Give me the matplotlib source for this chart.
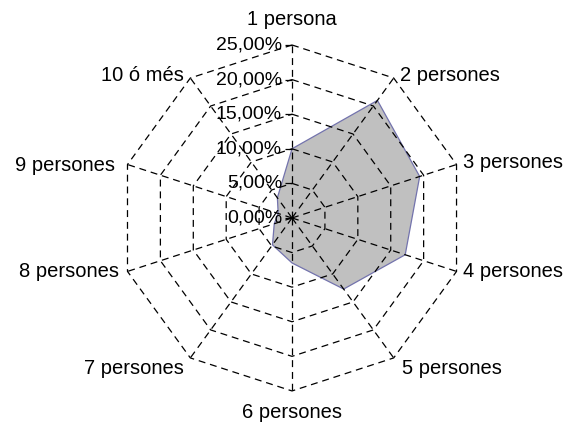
import numpy as np
import matplotlib
matplotlib.use("Agg")
import matplotlib.pyplot as plt

# household size shares (percent)
categories = ["1 persona", "2 persones", "3 persones", "4 persones", "5 persones",
              "6 persones", "7 persones", "8 persones", "9 persones", "10 ó més"]
shares = [10.0, 21.0, 19.4, 17.2, 12.7, 6.5, 4.8, 2.7, 2.1, 3.6]
ring_ticks = [0, 5, 10, 15, 20, 25]
ring_labels = ["0,00%", "5,00%", "10,00%", "15,00%", "20,00%", "25,00%"]

# label placement: (offset x, offset y) in pixels from the outer vertex, h-align
label_pos = [
    ((0, 25), "center"),
    ((6, 3), "left"),
    ((6, 2), "left"),
    ((6, 0), "left"),
    ((8, -11), "left"),
    ((0, -22), "center"),
    ((-6, -11), "right"),
    ((-8, 0), "right"),
    ((-12, -1), "right"),
    ((-6, 3), "right"),
]

plt.rcParams["font.family"] = ["Liberation Sans", "DejaVu Sans"]
plt.rcParams["lines.scale_dashes"] = False

fig = plt.figure(figsize=(5.75, 4.23), dpi=100)
ax = fig.add_axes([0.207, 0.0757, 0.6017, 0.818], projection="polar")
ax.set_theta_zero_location("N")
ax.set_theta_direction(-1)
ax.set_ylim(0, ring_ticks[-1])
ax.set_axis_off()

n = len(categories)
theta = np.arange(n) * 2 * np.pi / n
closed = np.append(theta, theta[0])

ax.fill(closed, shares + shares[:1], facecolor="#C0C0C0", edgecolor="#7373AD",
        lw=0.9, zorder=1, clip_on=False)

dash = dict(color="black", lw=0.9, dashes=(5, 3.5), zorder=2, clip_on=False)
for r in ring_ticks[1:]:
    ax.plot(closed, [r] * (n + 1), **dash)
for t in theta:
    ax.plot([t, t], [0, ring_ticks[-1]], **dash)

# value axis ticks and labels on the first spoke
ax.plot(np.zeros(len(ring_ticks)), ring_ticks, ls="none", marker=0, ms=5,
        mew=0.9, color="black", clip_on=False, zorder=3)
for r, lab in zip(ring_ticks, ring_labels):
    ax.annotate(lab, xy=(0, r), xytext=(-10, 0), textcoords="offset pixels",
                ha="right", va="center", fontsize=14, annotation_clip=False)

for t, name, ((dx, dy), ha) in zip(theta, categories, label_pos):
    ax.annotate(name, xy=(t, ring_ticks[-1]), xytext=(dx, dy),
                textcoords="offset pixels", ha=ha, va="center",
                fontsize=14.5, annotation_clip=False)

fig.savefig("out.png", dpi=100, facecolor="white")
